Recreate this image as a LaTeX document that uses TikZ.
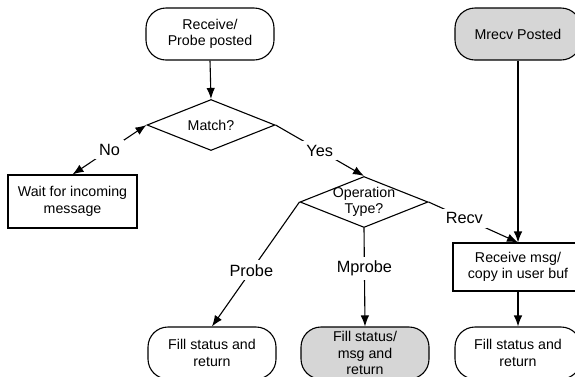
\documentclass[tikz,border=0pt]{standalone}
\usepackage{fontspec}
\setmainfont{Liberation Sans}
\usetikzlibrary{shapes.geometric,arrows.meta}
\definecolor{boxgray}{RGB}{214,214,214}
\tikzset{
  every node/.style={font=\fontsize{14.2}{16.5}\selectfont, align=center},
  term/.style={draw, line width=1.1pt, rounded corners=20pt, minimum height=52pt, inner sep=0pt},
  procbox/.style={draw, line width=1.1pt, inner sep=0pt},
  decision/.style={draw, diamond, line width=1.1pt, minimum width=128pt, minimum height=51pt, inner sep=0pt},
  conn/.style={line width=1.1pt, -{Latex[length=11pt,width=8.5pt]}},
  lbl/.style={fill=white, font=\fontsize{16.3}{19}\selectfont, inner sep=4pt}
}
\begin{document}
\begin{tikzpicture}[x=1pt,y=-1pt]
\useasboundingbox (0,0) rectangle (575,376);
% nodes
\node[term, minimum width=128pt] (rp) at (210,34) {Receive/\\Probe posted};
\node[term, fill=boxgray, minimum width=126pt] (mrecv) at (518,34) {Mrecv Posted};
\node[decision] (match) at (211,125) {};
\node (matcht) at (211,125) {Match?};
\node[procbox, minimum width=129pt, minimum height=53pt] (wait) at (72.5,201.5) {Wait for incoming\\message};
\node[decision] (op) at (364,202) {};
\node (opt) at (364,202) {Operation\\Type?};
\node[procbox, minimum width=130pt, minimum height=48pt] (recv) at (518,267) {Receive msg/\\copy in user buf};
\node[term, minimum width=128pt] (fill1) at (212,353) {Fill status and\\return};
\node[term, fill=boxgray, minimum width=128pt] (fill2) at (365,353) {Fill status/\\msg and\\return};
\node[term, minimum width=126pt] (fill3) at (518,353) {Fill status and\\return};
% connectors
\draw[conn] (rp.south) -- (match.north);
\draw[conn, {Latex[length=11pt,width=8.5pt]}-{Latex[length=11pt,width=8.5pt]}] (match.west) -- node[lbl, pos=0.5] (no) {No} (wait.north);
\draw[conn] (match.east) -- node[lbl, pos=0.5] (yes) {Yes} (op.north);
\draw[conn] (op.west) -- node[lbl, pos=0.55] (probe) {Probe} (fill1.north);
\draw[conn] (op.south) -- node[lbl, pos=0.41] (mprobe) {Mprobe} (fill2.north);
\draw[conn] (op.east) -- node[lbl, pos=0.4] (recvl) {Recv} (recv.north);
\draw[conn] (mrecv.south) -- (recv.north);
\draw[conn] (recv.south) -- (fill3.north);
\end{tikzpicture}
\end{document}
